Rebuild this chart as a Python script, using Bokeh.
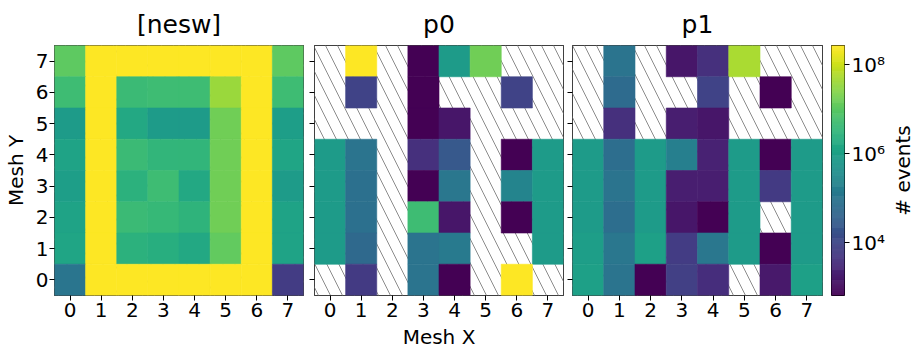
import math
import numpy as np
from bokeh.plotting import figure
from bokeh.models import ColumnDataSource, LogColorMapper, FixedTicker, CustomJSTickFormatter
from bokeh.layouts import row
from bokeh.transform import transform
from bokeh.palettes import Viridis256
from bokeh.embed import file_html
from bokeh.resources import INLINE

# ---------------- data ----------------
mesh_x = [0, 1, 2, 3, 4, 5, 6, 7]
row_y = [7, 6, 5, 4, 3, 2, 1, 0]          # rows below are listed top (y=7) to bottom (y=0)
panel_titles = ["[nesw]", "p0", "p1"]
N = None                                   # no events -> hatched cell

nesw = [
    [1.1e7, 2.7e8, 2.7e8, 2.7e8, 2.7e8, 2.7e8, 2.7e8, 1.1e7],
    [4.9e6, 2.7e8, 4.3e6, 4.9e6, 4.9e6, 3.9e7, 2.7e8, 4.9e6],
    [8.0e5, 2.7e8, 1.6e6, 8.0e5, 8.0e5, 1.6e7, 2.7e8, 9.1e5],
    [1.2e6, 2.7e8, 4.3e6, 3.3e6, 3.3e6, 1.6e7, 2.7e8, 1.3e6],
    [9.1e5, 2.7e8, 2.6e6, 4.9e6, 1.6e6, 1.6e7, 2.7e8, 8.0e5],
    [1.2e6, 2.7e8, 4.3e6, 3.8e6, 2.9e6, 1.6e7, 2.7e8, 1.2e6],
    [1.3e6, 2.7e8, 2.6e6, 2.2e6, 1.6e6, 1.2e7, 2.7e8, 1.2e6],
    [1.0e5, 2.7e8, 2.7e8, 2.7e8, 2.7e8, 2.7e8, 2.7e8, 6.6e3],
]
p0 = [
    [N, 2.7e8, N, 650, 8.0e5, 1.6e7, N, N],
    [N, 8.6e3, N, 650, N, N, 8.6e3, N],
    [N, N, N, 650, 1.4e3, N, N, N],
    [8.0e5, 9.4e4, N, 4.0e3, 2.4e4, N, 650, 8.0e5],
    [8.0e5, 7.7e4, N, 650, 1.1e5, N, 2.2e5, 8.0e5],
    [8.0e5, 7.7e4, N, 4.9e6, 1.4e3, N, 650, 8.0e5],
    [8.0e5, 5.3e4, N, 9.4e4, 1.3e5, N, N, 8.0e5],
    [N, 5.8e3, N, 9.4e4, 650, N, 2.7e8, N],
]
p1 = [
    [N, 9.4e4, N, 1.4e3, 4.0e3, 5.1e7, N, N],
    [N, 6.0e4, N, N, 8.6e3, N, 650, N],
    [N, 4.0e3, N, 1.9e3, 1.4e3, N, N, N],
    [8.0e5, 6.8e4, 8.0e5, 1.7e5, 2.2e3, 8.0e5, 650, 8.0e5],
    [8.0e5, 9.4e4, 8.0e5, 1.9e3, 1.9e3, 8.0e5, 5.8e3, 8.0e5],
    [8.0e5, 6.8e4, 8.0e5, 1.4e3, 650, 8.0e5, N, 8.0e5],
    [9.1e5, 1.1e5, 1.0e6, 6.6e3, 1.1e5, 8.0e5, 650, 8.0e5],
    [1.0e6, 9.4e4, 650, 7.5e3, 3.5e3, N, 1.6e3, 1.0e6],
]
panels = [nesw, p0, p1]
vmin, vmax = 650, 2.7e8
cbar_ticks = [1e4, 1e6, 1e8]
cbar_label = "# events"

# ---------------- style ----------------
FONT = "DejaVu Sans"
TOP, BOTTOM = 44, 57
FRAME_H = 250
mapper = LogColorMapper(palette=Viridis256, low=vmin, high=vmax)

def style_axes(p, show_ylabels):
    for ax in (p.xaxis, p.yaxis):
        ax.axis_line_color = None
        ax.major_tick_out = 5
        ax.major_tick_in = 0
        ax.minor_tick_out = 0
        ax.minor_tick_in = 0
        ax.major_tick_line_color = "black"
        ax.major_label_text_font = FONT
        ax.major_label_text_font_size = "20px"
        ax.major_label_text_color = "black"
        ax.axis_label_text_font = FONT
        ax.axis_label_text_font_size = "20px"
        ax.axis_label_text_font_style = "normal"
        ax.axis_label_text_color = "black"
    p.xaxis.ticker = FixedTicker(ticks=mesh_x)
    p.yaxis.ticker = FixedTicker(ticks=mesh_x)
    p.xaxis.major_label_standoff = 2
    p.xaxis.axis_label_standoff = 5
    if show_ylabels:
        p.yaxis.major_label_standoff = 1
        p.yaxis.axis_label_standoff = 5
    else:
        p.yaxis.formatter = CustomJSTickFormatter(code="return ''")
        p.yaxis.major_label_standoff = 0

def make_panel(vals, title, frame_w, left, right, ylab, xlab):
    xs, ys, vs = [], [], []
    for r, yv in enumerate(row_y):
        for c, xv in enumerate(mesh_x):
            v = vals[r][c]
            if v is not None:
                xs.append(xv); ys.append(yv); vs.append(v)
    src = ColumnDataSource(dict(x=xs, y=ys, v=vs))
    p = figure(frame_width=frame_w, frame_height=FRAME_H,
               x_range=(mesh_x[0] - 0.5, mesh_x[-1] + 0.5),
               y_range=(min(row_y) - 0.5, max(row_y) + 0.5),
               output_backend="svg", toolbar_location=None,
               min_border_left=left, min_border_right=right,
               min_border_top=TOP, min_border_bottom=BOTTOM, title=title)
    p.title.text_font = FONT
    p.title.text_font_size = "25px"
    p.title.text_font_style = "normal"
    p.title.text_color = "black"
    p.title.align = "center"
    p.title.standoff = 14
    p.grid.visible = False
    p.outline_line_color = "black"
    p.outline_line_width = 1
    p.background_fill_color = "white"
    p.border_fill_color = "white"
    # hatched background where there are no events
    cx = (mesh_x[0] + mesh_x[-1]) / 2
    cy = (min(row_y) + max(row_y)) / 2
    p.rect(x=[cx], y=[cy], width=len(mesh_x), height=len(row_y), fill_color="white",
           line_color=None, hatch_pattern="\\", hatch_color="#8c8c8c",
           hatch_scale=24, hatch_weight=1)
    p.rect(x="x", y="y", width=1, height=1, source=src,
           fill_color=transform("v", mapper), line_color=transform("v", mapper),
           line_width=0.6)
    style_axes(p, ylab is not None)
    if ylab:
        p.yaxis.axis_label = ylab
    if xlab:
        p.xaxis.axis_label = xlab
    return p

f1 = make_panel(nesw, panel_titles[0], 249, 52, 5, "Mesh Y", None)
f2 = make_panel(p0, panel_titles[1], 249, 6, 4, None, "Mesh X")
f3 = make_panel(p1, panel_titles[2], 250, 5, 4, None, None)

# ---------------- colorbar ----------------
cb = figure(frame_width=13, frame_height=FRAME_H, x_range=(0, 1), y_range=(vmin, vmax),
            y_axis_type="log", y_axis_location="right", output_backend="svg",
            toolbar_location=None, min_border_left=5, min_border_right=41,
            min_border_top=TOP, min_border_bottom=BOTTOM)
edges = np.logspace(np.log10(vmin), np.log10(vmax), len(Viridis256) + 1)
cb.quad(left=0, right=1, bottom=edges[:-1], top=edges[1:], fill_color=list(Viridis256),
        line_color=list(Viridis256), line_width=0.5)
cb.grid.visible = False
cb.xaxis.visible = False
cb.outline_line_color = "black"
cb.border_fill_color = "white"
ax = cb.yaxis
ax.ticker = FixedTicker(ticks=cbar_ticks, minor_ticks=[])
ax.formatter = CustomJSTickFormatter(code="""
const sup = {'0':'\u2070','1':'\u00b9','2':'\u00b2','3':'\u00b3','4':'\u2074','5':'\u2075','6':'\u2076','7':'\u2077','8':'\u2078','9':'\u2079','-':'\u207b'};
const e = Math.round(Math.log10(tick));
return '10' + String(e).split('').map(c => sup[c]).join('');
""")
ax.axis_line_color = None
ax.major_tick_out = 5
ax.major_tick_in = 0
ax.minor_tick_out = 0
ax.minor_tick_in = 0
ax.major_label_standoff = 2
ax.major_label_text_font = FONT
ax.major_label_text_font_size = "20px"
ax.major_label_text_color = "black"

# colorbar title: a left-axis label of a slim companion figure (reads bottom-to-top)
lab = figure(frame_width=1, frame_height=FRAME_H, x_range=(0, 1), y_range=(0, 1),
             output_backend="svg", toolbar_location=None, min_border_left=25,
             min_border_right=3, min_border_top=TOP, min_border_bottom=BOTTOM)
lab.xaxis.visible = False
lab.grid.visible = False
lab.outline_line_color = None
lab.background_fill_color = "white"
lab.border_fill_color = "white"
lax = lab.yaxis
lax.ticker = FixedTicker(ticks=[])
lax.axis_line_color = None
lax.major_tick_out = 0
lax.major_tick_in = 0
lax.minor_tick_out = 0
lax.minor_tick_in = 0
lax.major_label_standoff = 0
lax.axis_label = cbar_label
lax.axis_label_standoff = 0
lax.axis_label_text_font = FONT
lax.axis_label_text_font_size = "20px"
lax.axis_label_text_font_style = "normal"
lax.axis_label_text_color = "black"

layout = row(f1, f2, f3, cb, lab, spacing=0)
open("out.html", "w").write(file_html(layout, INLINE))
